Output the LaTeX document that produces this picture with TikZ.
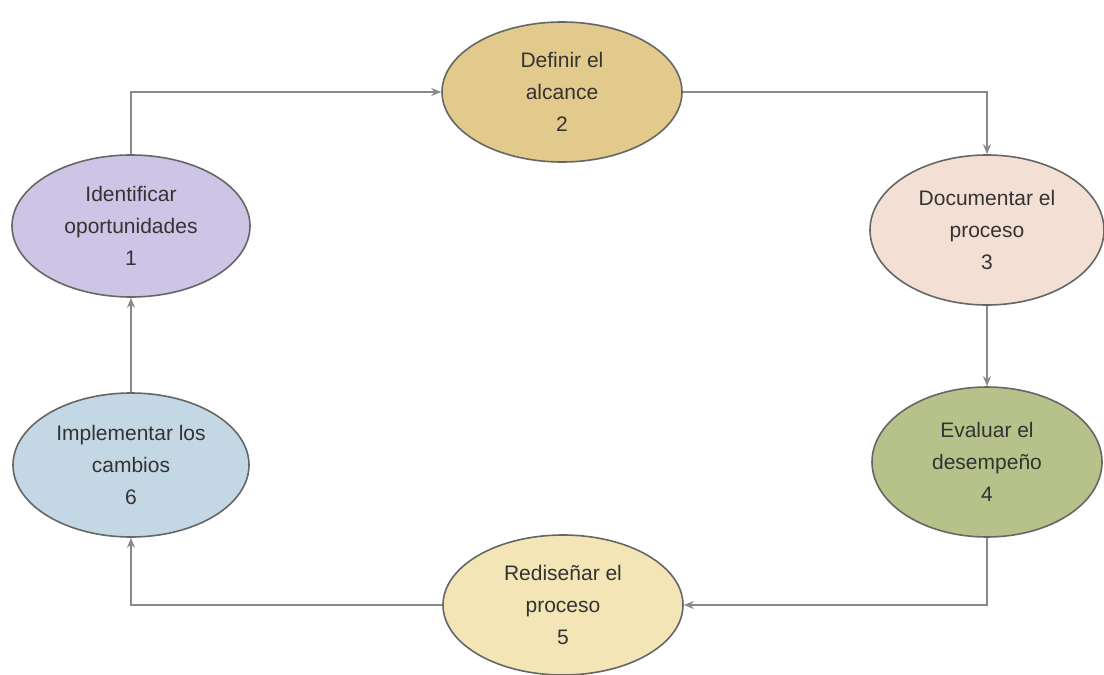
\documentclass[tikz,border=0pt]{standalone}
\usepackage{fontspec}
\setmainfont{Liberation Sans}
\usetikzlibrary{shapes.geometric,arrows.meta}
\definecolor{cone}{HTML}{CEC4E6}
\definecolor{ctwo}{HTML}{E2C98C}
\definecolor{cthree}{HTML}{F4DFD5}
\definecolor{cfour}{HTML}{B6C28A}
\definecolor{cfive}{HTML}{F3E5B6}
\definecolor{csix}{HTML}{C4D7E5}
\definecolor{edgecol}{HTML}{666666}
\definecolor{linecol}{HTML}{8A8A8A}
\definecolor{txtcol}{HTML}{333333}
\tikzset{
  stage/.style={ellipse, draw=edgecol, line width=1.6pt, inner sep=0pt, align=center,
    text=txtcol, font=\fontsize{21}{32}\selectfont},
  flow/.style={draw=linecol, line width=2.6pt, -{Stealth[length=10pt,width=8pt]}}
}
\begin{document}
\begin{tikzpicture}[x=1pt,y=-1pt]
\useasboundingbox (0,0) rectangle (1104,675);
\node[stage, fill=cone, minimum width=238pt, minimum height=142pt] (n1) at (131,226) {Identificar\\oportunidades\\1};
\node[stage, fill=ctwo, minimum width=240pt, minimum height=140pt] (n2) at (562,92) {Definir el\\alcance\\2};
\node[stage, fill=cthree, minimum width=234pt, minimum height=150pt] (n3) at (987,230) {Documentar el\\proceso\\3};
\node[stage, fill=cfour, minimum width=230pt, minimum height=150pt] (n4) at (987,462) {Evaluar el\\desempeño\\4};
\node[stage, fill=cfive, minimum width=240pt, minimum height=140pt] (n5) at (563,605) {Rediseñar el\\proceso\\5};
\node[stage, fill=csix, minimum width=236pt, minimum height=144pt] (n6) at (131,465) {Implementar los\\cambios\\6};
\draw[flow] (n1.north) |- (n2.west);
\draw[flow] (n2.east) -| (n3.north);
\draw[flow] (n3.south) -- (n4.north);
\draw[flow] (n4.south) |- (n5.east);
\draw[flow] (n5.west) -| (n6.south);
\draw[flow] (n6.north) -- (n1.south);
\end{tikzpicture}
\end{document}
